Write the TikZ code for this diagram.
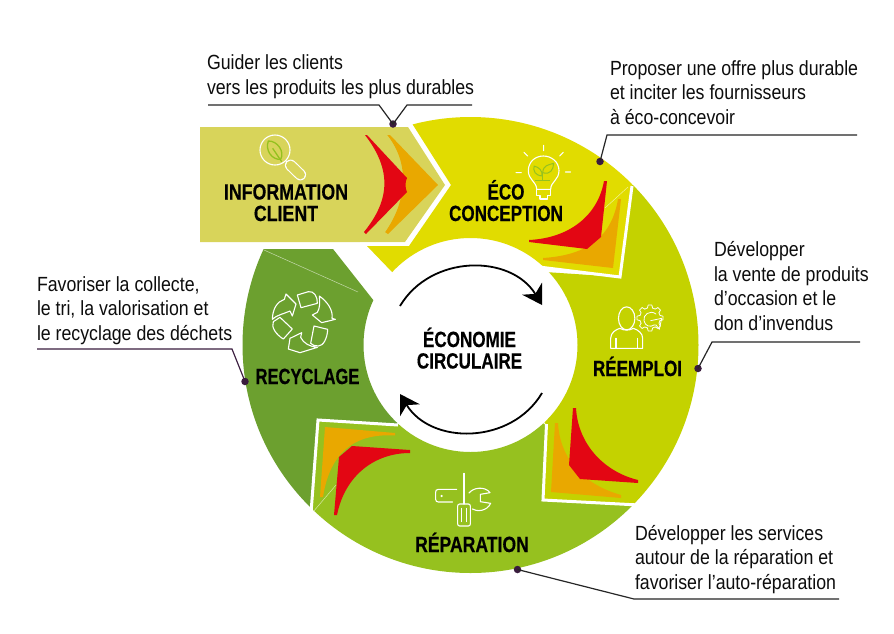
\documentclass[tikz,border=0pt]{standalone}
\usepackage{fontspec}
\setmainfont[FakeStretch=0.865]{Liberation Sans}
\newfontfamily\labfont[FakeStretch=0.8,BoldFeatures={FakeStretch=0.8,FakeBold=0.4}]{Liberation Sans}
\usetikzlibrary{arrows.meta}
\definecolor{ceco}{HTML}{E1DC00}
\definecolor{creem}{HTML}{C4D200}
\definecolor{crep}{HTML}{96C11F}
\definecolor{crec}{HTML}{6CA02F}
\definecolor{cinfo}{HTML}{D8D45A}
\definecolor{cred}{HTML}{E30613}
\definecolor{corg}{HTML}{E9A800}
\definecolor{cdot}{HTML}{3A1C3E}
\definecolor{cleaf}{HTML}{95C11F}
\tikzset{
 x=1pt,y=-1pt,
 sep/.style={draw=white,line width=3pt,miter limit=10},
 faint/.style={draw=white,line width=.5pt,opacity=.6},
 desc/.style={inner sep=0pt,outer sep=0pt,anchor=base west,align=left,font=\fontsize{20.5}{24.4}\selectfont,text=black!95},
 lab/.style={inner sep=0pt,outer sep=0pt,anchor=base,align=center,font=\labfont\bfseries\fontsize{22}{21.5}\selectfont},
 leader/.style={draw=black!85,line width=1.2pt},
 dotn/.style={circle,fill=cdot,inner sep=0pt,minimum size=7.5pt},
 ico/.style={draw=white,line width=1.1pt,line join=round,line cap=round},
 zoomed/.style={x=.33333pt,y=-.33333pt},
 cyc/.style={draw=black,line width=1.8pt,-{Stealth[length=19pt,width=23pt,inset=6pt]}},
}
\newcommand{\ring}[2]{\begin{scope}\clip #2;\fill[#1,even odd rule] (470.5pt,-345pt) circle[radius=228pt] (470.5pt,-345pt) circle[radius=107pt];\end{scope}}
\begin{document}
\begin{tikzpicture}
\useasboundingbox (0,0) rectangle (894,633);
\fill[white] (0,0) rectangle (894,633);
% ring sectors
\ring{ceco}{(402,107)--(413,125)--(451,185)--(409,246)--(367,246)--(393,273)--(540,268)--(620,277)--(634,172)--(640,100)--cycle}
\ring{creem}{(634,172)--(620,277)--(545,272)--(500,345)--(546,425)--(543,500)--(720,509.5)--(730,172)--cycle}
\ring{crep}{(318,419)--(310,530)--(310,600)--(720,600)--(720,509.5)--(543,500)--(546,425)--(470,380)--(397,425)--cycle}
\ring{crec}{(263,249)--(333,249)--(374,301)--(410,345)--(397,425)--(318,419)--(310,530)--(230,530)--(230,249)--cycle}
% faint lines
\draw[faint] (264,250) -- (358,292);
\draw[faint] (628,187) -- (605,208);
\draw[faint] (313,512) -- (336,485);
% chevron separators
\draw[sep] (539,267) -- (620,277) -- (632,186);
\draw[sep] (639,505) -- (543,500) -- (546.5,424);
\draw[sep] (311,513) -- (318,420) -- (398,425);
% information arrow
\fill[cinfo] (200,127) -- (408,127) -- (445,185) -- (405,242) -- (200,242) -- cycle;
\draw[sep] (411,126) -- (448,185) -- (406,244) -- (360,244);
% swooshes : information
\fill[corg] (387,135) -- (390,135) -- (438,185) -- (388,234) -- (385,232) .. controls (405,205) and (412,165) .. cycle;
\fill[cinfo] (385,232) .. controls (403,205) and (410,165) .. (387,135) -- (360,135) -- (360,234) -- cycle;
\fill[cred] (365,135) -- (367,135) -- (407,178) .. controls (405,182) and (405,188) .. (407,192) -- (366,234) -- (364,232) .. controls (390,200) and (392,170) .. cycle;
% swooshes : eco
\fill[corg] (621,199) -- (618,199) .. controls (612,235) and (590,255) .. (543,258) -- (543,260) -- (613,268) -- cycle;
\fill[cred] (604,181) .. controls (598,215) and (570,238) .. (529,240) -- (529,242) -- (587,249) -- (601,237) -- (607,181) -- cycle;
% swooshes : reemploi
\fill[corg] (555,423) -- (551,492) -- (621,498) -- (621,495) .. controls (585,485) and (560,460) .. (558,423) -- cycle;
\fill[cred] (573,408) -- (569,465) -- (580,479) -- (638,483) -- (638,480) .. controls (605,472) and (578,445) .. (576,408) -- cycle;
% swooshes : reparation
\fill[corg] (325,427) -- (395,433) -- (395,435.5) .. controls (355,433) and (330,452) .. (323,497) -- (320,497) -- cycle;
\fill[cred] (339,457) -- (352,446) -- (410,450) -- (410,453) .. controls (375,453) and (345,475) .. (337,515) -- (334,515) -- cycle;
% cycle arrows
\coordinate (ca1) at (400,306);
\coordinate (ca2) at (542,305);
\coordinate (cb1) at (542,393);
\coordinate (cb2) at (400,394);
\draw[cyc] (ca1) .. controls (431,254) and (511,254) .. (ca2);
\draw[cyc] (cb1) .. controls (511,445) and (431,445) .. (cb2);
% magnifier icon
\begin{scope}[shift={(190pt,-110pt)},zoomed]
\draw[draw=white,line width=1.1pt] (255,120) circle[radius=15pt];
\draw[white,line width=1.1pt] (288,153) -- (296,160);
\draw[white,line width=11.5pt,line cap=round] (302,166) -- (331,194);
\draw[cinfo,line width=9.3pt,line cap=round] (302,166) -- (331,194);
\draw[cleaf,line width=1.3pt,line join=round] (235,93) .. controls (262,92) and (285,125) .. (272,148) .. controls (245,150) and (225,120) .. (235,93) -- cycle;
\draw[cleaf,line width=1.3pt] (248,115) -- (275,155);
\end{scope}
% bulb icon
\begin{scope}[shift={(500pt,-130pt)},zoomed]
\draw[ico] (110,178) .. controls (110,155) and (85,150) .. (85,122) .. controls (85,96) and (105,78) .. (130,78) .. controls (155,78) and (177,96) .. (177,122) .. controls (177,150) and (152,155) .. (152,178) -- cycle;
\draw[ico] (110,178) -- (110,197) -- (120,197) -- (120,207) -- (142,207) -- (142,197) -- (152,197) -- (152,178);
\draw[ico] (131,46) -- (131,62) (72,67) -- (83,78) (190,67) -- (179,78) (48,128) -- (64,128) (196,126) -- (212,126);
\draw[cleaf,line width=1pt,line join=round] (128,150) -- (128,128) (105,150) -- (150,150);
\draw[cleaf,line width=1pt,line join=round] (128,128) .. controls (130,105) and (145,105) .. (161,100) .. controls (160,120) and (150,135) .. (128,128) -- cycle;
\draw[cleaf,line width=1pt,line join=round] (126,138) .. controls (105,135) and (100,125) .. (102,108) .. controls (118,112) and (128,122) .. (126,138) -- cycle;
\end{scope}
% person icon
\begin{scope}[shift={(530pt,-290pt)},zoomed]
\draw[ico] (290,85) ellipse[x radius=8.2pt,y radius=11.5pt];
\draw[ico] (242,175) -- (242,145) .. controls (242,128) and (258,118) .. (270,115) .. controls (280,122) and (300,122) .. (310,115) .. controls (325,120) and (338,130) .. (338,145) -- (338,175) -- cycle;
\draw[ico] (258,145) -- (258,175) (323,145) -- (323,175);
\end{scope}
\begin{scope}[x=1pt,y=1pt,shift={(650pt,-318pt)}]
\foreach \a in {0,45,...,315}{
 \draw[ico,line width=.8pt,rotate=\a] (-2.6,-10) -- (-1.8,-13) -- (1.8,-13) -- (2.6,-10) -- (5.2,-8.9);
}
\end{scope}
\begin{scope}[shift={(530pt,-290pt)},zoomed]
\draw[ico,line width=.8pt] (378,72) .. controls (360,58) and (338,75) .. (342,92) .. controls (345,110) and (362,112) .. (372,105);
\draw[ico,line width=.8pt] (362,92) -- (395,85) -- (388,118) -- (378,105) -- (372,105);
\end{scope}
% recycling icon
\begin{scope}[shift={(240pt,-240pt)},zoomed]
\draw[ico] (172,165) -- (205,155) .. controls (222,152) and (233,170) .. (232,190) -- (183,203) -- cycle;
\draw[ico] (120,232) -- (157,267) -- (130,297) .. controls (110,285) and (92,262) .. (100,245) -- cycle;
\draw[ico] (222,258) -- (263,268) .. controls (262,295) and (250,318) .. (235,318) .. controls (225,318) and (215,315) .. (212,310) -- cycle;
\draw[ico] (97,238) .. controls (98,205) and (112,185) .. (133,178) -- (138,162) -- (168,192) -- (157,228) -- (150,213) .. controls (130,222) and (110,225) .. (97,238) -- cycle;
\draw[ico] (238,168) .. controls (262,185) and (280,210) .. (276,235) -- (286,238) -- (245,248) -- (217,225) -- (232,217) .. controls (240,205) and (240,185) .. (238,168) -- cycle;
\draw[ico] (145,327) -- (150,295) -- (185,278) -- (182,292) .. controls (190,310) and (210,320) .. (232,322) -- (180,338) -- cycle;
\end{scope}
% tools icon
\begin{scope}[shift={(300pt,-400pt)},zoomed]
\draw[ico] (470,268) -- (415,268) .. controls (409,268) and (407,272) .. (407,276) -- (407,298) .. controls (407,303) and (410,306) .. (415,306) -- (458,306);
\fill[white] (425,288) circle[radius=1.2pt];
\draw[ico] (492,220) -- (492,312);
\draw[ico,rounded corners=2pt] (473,312) rectangle (511,378);
\draw[ico] (484,325) -- (484,365) (499,325) -- (499,365);
\draw[ico] (507,279) .. controls (520,262) and (555,258) .. (570,278) -- (541,283) -- (541,305) -- (572,310) .. controls (560,335) and (530,335) .. (517,327);
\end{scope}
% labels
\node[lab,xscale=1.01] (linfo) at (286,221) {INFORMATION\\CLIENT};
\node[lab,xscale=.97] (leco) at (506,221) {ÉCO\\CONCEPTION};
\node[lab,xscale=.97] (lreem) at (637.5,376) {RÉEMPLOI};
\node[lab] (lrep) at (472,552) {RÉPARATION};
\node[lab,xscale=.94] (lrec) at (307.5,384) {RECYCLAGE};
\node[lab,xscale=.97] (lcen) at (469.5,368.5) {ÉCONOMIE\\CIRCULAIRE};
% descriptions
\node[desc] (t1) at (207,94) {Guider les clients\\vers les produits les plus durables};
\node[desc] (t2) at (610,124) {Proposer une offre plus durable\\et inciter les fournisseurs\\à éco-concevoir};
\node[desc] (t3) at (714,330) {Développer\\la vente de produits\\d’occasion et le\\don d’invendus};
\node[desc] (t4) at (635,589) {Développer les services\\autour de la réparation et\\favoriser l’auto-réparation};
\node[desc] (t5) at (37,340) {Favoriser la collecte,\\le tri, la valorisation et\\le recyclage des déchets};
% leaders
\node[dotn] (d1) at (393,124) {};
\node[dotn] (d2) at (600,161.5) {};
\node[dotn] (d3) at (698,368.5) {};
\node[dotn] (d4) at (517.5,569.5) {};
\node[dotn] (d5) at (245,381.5) {};
\coordinate (a1) at (208,105); \coordinate (a2) at (379,105); \coordinate (a3) at (407,105); \coordinate (a4) at (472,105);
\coordinate (b1) at (857,135); \coordinate (b2) at (607,135);
\coordinate (c1) at (860,342); \coordinate (c2) at (712,342);
\coordinate (e1) at (839,599); \coordinate (e2) at (634,599);
\coordinate (f1) at (37,349); \coordinate (f2) at (232,349);
\draw[leader] (a1) -- (a2) -- (d1.center) -- (a3) -- (a4);
\draw[leader] (b1) -- (b2) -- (d2.center);
\draw[leader] (c1) -- (c2) -- (d3.center);
\draw[leader] (e1) -- (e2) -- (d4.center);
\draw[leader,draw=cdot] (f1) -- (f2) -- (d5.center);
\end{tikzpicture}
\end{document}
